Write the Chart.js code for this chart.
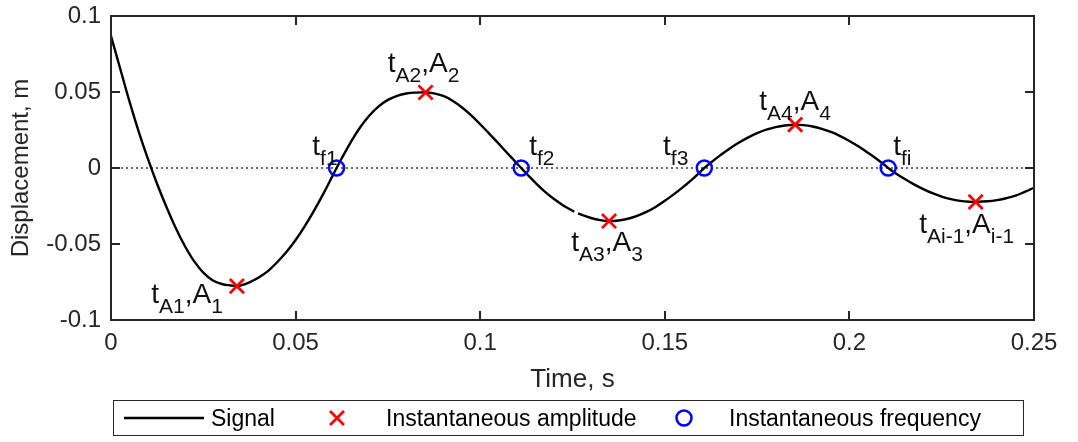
<!DOCTYPE html>
<html>
<head>
<meta charset="utf-8">
<script src="https://cdn.jsdelivr.net/npm/chart.js@4.4.1/dist/chart.umd.min.js"></script>
<style>
  body { margin: 0; background: #fff; }
  #wrap { position: relative; width: 1078px; height: 442px; }
  #legend {
    position: absolute; left: 113px; top: 400px; width: 909px; height: 34px;
    border: 1.5px solid #262626; font-family: 'Liberation Sans', Arial, sans-serif;
    font-size: 23px; color: #000;
  }
  #legend .txt { position: absolute; top: 4px; line-height: 26px; white-space: nowrap; }
  #legend svg { position: absolute; top: 0; }
</style>
</head>
<body>
<div id="wrap">
  <canvas id="chart" width="1078" height="442"></canvas>
  <div id="legend">
    <svg style="left:8px" width="84" height="34"><line x1="2" y1="17" x2="82" y2="17" stroke="#000" stroke-width="2.5"/></svg>
    <span class="txt" style="left:97px">Signal</span>
    <svg style="left:212px" width="22" height="34"><path d="M4 10 L18 24 M18 10 L4 24" stroke="#ff0000" stroke-width="2.8"/></svg>
    <span class="txt" style="left:272px">Instantaneous amplitude</span>
    <svg style="left:559px" width="22" height="34"><circle cx="11" cy="17" r="7.5" fill="none" stroke="#0000ff" stroke-width="2.5"/></svg>
    <span class="txt" style="left:615px">Instantaneous frequency</span>
  </div>
</div>
<script>
// signal (time in s, displacement in m), null = small break in the trace
const signalTime = [0, 0.0025, 0.005, 0.0075, 0.01, 0.0125, 0.015, 0.0175, 0.02, 0.0225, 0.025, 0.0275, 0.03, 0.0325, 0.0341,
  0.035, 0.0375, 0.04, 0.0425, 0.045, 0.0475, 0.05, 0.0525, 0.055, 0.0575, 0.06, 0.0611,
  0.0625, 0.065, 0.0675, 0.07, 0.0725, 0.075, 0.0775, 0.08, 0.0825, 0.0852,
  0.0875, 0.09, 0.0925, 0.095, 0.0975, 0.1, 0.1025, 0.105, 0.1075, 0.11, 0.1111,
  0.1125, 0.115, 0.1175, 0.12, 0.1225, 0.125, 0.1255, 0.126, 0.1265, 0.1275, 0.13, 0.1325, 0.1349,
  0.1375, 0.14, 0.1425, 0.145, 0.1475, 0.15, 0.1525, 0.155, 0.1575, 0.16, 0.1607,
  0.1625, 0.165, 0.1675, 0.17, 0.1725, 0.175, 0.1775, 0.18, 0.1825, 0.1853,
  0.1875, 0.19, 0.1925, 0.195, 0.1975, 0.2, 0.2025, 0.205, 0.2075, 0.21, 0.2105,
  0.2125, 0.215, 0.2175, 0.22, 0.2225, 0.225, 0.2275, 0.23, 0.2325, 0.2342,
  0.2375, 0.24, 0.2425, 0.245, 0.2475, 0.25];
const signalDisp = [0.0868, 0.0653, 0.0438, 0.024, 0.006, -0.0105, -0.0255, -0.0393, -0.0513, -0.0613, -0.0688, -0.0738, -0.0763, -0.0773, -0.0777,
  -0.0774, -0.0752, -0.072, -0.0678, -0.062, -0.0553, -0.0474, -0.0382, -0.028, -0.017, -0.0052, 0,
  0.0064, 0.0172, 0.0268, 0.0345, 0.0405, 0.0448, 0.0475, 0.049, 0.0496, 0.0497,
  0.0491, 0.0474, 0.0443, 0.04, 0.0348, 0.0288, 0.0225, 0.016, 0.0094, 0.0029, 0,
  -0.0036, -0.0098, -0.0155, -0.0204, -0.0246, -0.0281, -0.0287, null, -0.0298, -0.0308, -0.0329, -0.0343, -0.0349,
  -0.0345, -0.0334, -0.0315, -0.0289, -0.0256, -0.0216, -0.0172, -0.0124, -0.0073, -0.0015, 0,
  0.0036, 0.0083, 0.0127, 0.0166, 0.02, 0.0229, 0.0252, 0.0269, 0.028, 0.0285,
  0.0282, 0.0273, 0.0258, 0.0237, 0.021, 0.0178, 0.0141, 0.0101, 0.0058, 0.001, 0,
  -0.0034, -0.0073, -0.0108, -0.0139, -0.0166, -0.0188, -0.0205, -0.0216, -0.0222, -0.0223,
  -0.0219, -0.0211, -0.0199, -0.0182, -0.0157, -0.013];

// instantaneous amplitude (extrema) and frequency (zero crossings)
const ampTime = [0.0341, 0.0852, 0.1349, 0.1853, 0.2342];
const ampDisp = [-0.0777, 0.0497, -0.0349, 0.0285, -0.0223];
const ampLabels = [['t', 'A1', ',A', '1'], ['t', 'A2', ',A', '2'], ['t', 'A3', ',A', '3'], ['t', 'A4', ',A', '4'], ['t', 'Ai-1', ',A', 'i-1']];
const freqTime = [0.0611, 0.1111, 0.1607, 0.2105];
const freqDisp = [0, 0, 0, 0];
const freqLabels = [['t', 'f1'], ['t', 'f2'], ['t', 'f3'], ['t', 'fi']];

const xTickLabels = ['0', '0.05', '0.1', '0.15', '0.2', '0.25'];
const yTickLabels = ['-0.1', '-0.05', '0', '0.05', '0.1'];

// where each annotation sits relative to its marker (pixels)
const ampLabelPos = [
  {dx: -14, dy: 17, align: 'right'},
  {dx: -2, dy: -20, align: 'center'},
  {dx: -2, dy: 30, align: 'center'},
  {dx: 0, dy: -15, align: 'center'},
  {dx: -9, dy: 31, align: 'center'}
];
const freqLabelPos = [
  {dx: 1, dy: -13, align: 'right'},
  {dx: 8, dy: -13, align: 'left'},
  {dx: -16, dy: -13, align: 'right'},
  {dx: 5, dy: -13, align: 'left'}
];

const FONT = "'Liberation Sans', Arial, sans-serif";
const AXIS_COL = '#262626';

function drawSubLabel(ctx, px, py, parts, align) {
  const mainFont = '28px ' + FONT, subFont = '21px ' + FONT;
  let total = 0;
  const widths = parts.map((p, i) => {
    ctx.font = i % 2 ? subFont : mainFont;
    const w = ctx.measureText(p).width;
    total += w;
    return w;
  });
  let cx = align === 'right' ? px - total : align === 'center' ? px - total / 2 : px;
  ctx.textAlign = 'left';
  ctx.textBaseline = 'alphabetic';
  parts.forEach((p, i) => {
    ctx.font = i % 2 ? subFont : mainFont;
    ctx.fillText(p, cx, i % 2 ? py + 10 : py);
    cx += widths[i];
  });
}

const frameAndLabels = {
  id: 'frameAndLabels',
  afterDraw(chart) {
    const {ctx, chartArea: a, scales: {x, y}} = chart;
    ctx.save();
    // box round the axes, with ticks pointing inwards on all four sides
    ctx.strokeStyle = AXIS_COL;
    ctx.lineWidth = 2;
    ctx.strokeRect(a.left, a.top, a.right - a.left, a.bottom - a.top);
    ctx.beginPath();
    x.ticks.forEach(t => {
      const px = Math.round(x.getPixelForValue(t.value));
      ctx.moveTo(px, a.bottom); ctx.lineTo(px, a.bottom - 9);
      ctx.moveTo(px, a.top); ctx.lineTo(px, a.top + 9);
    });
    y.ticks.forEach(t => {
      const py = Math.round(y.getPixelForValue(t.value));
      ctx.moveTo(a.left, py); ctx.lineTo(a.left + 9, py);
      ctx.moveTo(a.right, py); ctx.lineTo(a.right - 9, py);
    });
    ctx.stroke();

    ctx.fillStyle = '#111';
    ampTime.forEach((t, i) => {
      const pos = ampLabelPos[i];
      drawSubLabel(ctx, x.getPixelForValue(t) + pos.dx, y.getPixelForValue(ampDisp[i]) + pos.dy, ampLabels[i], pos.align);
    });
    freqTime.forEach((t, i) => {
      const pos = freqLabelPos[i];
      drawSubLabel(ctx, x.getPixelForValue(t) + pos.dx, y.getPixelForValue(freqDisp[i]) + pos.dy, freqLabels[i], pos.align);
    });
    ctx.restore();
  }
};

const ctx = document.getElementById('chart').getContext('2d');

new Chart(ctx, {
  type: 'line',
  data: {
    datasets: [
      {
        label: 'Instantaneous amplitude',
        data: ampTime.map((t, i) => ({x: t, y: ampDisp[i]})),
        showLine: false,
        pointStyle: 'crossRot',
        pointRadius: 10,
        pointBorderWidth: 2.8,
        pointBorderColor: '#ff0000',
        pointBackgroundColor: '#ff0000',
        order: 0
      },
      {
        label: 'Instantaneous frequency',
        data: freqTime.map((t, i) => ({x: t, y: freqDisp[i]})),
        showLine: false,
        pointStyle: 'circle',
        pointRadius: 7.5,
        pointBorderWidth: 2.5,
        pointBorderColor: '#0000ff',
        pointBackgroundColor: 'rgba(0,0,0,0)',
        order: 0
      },
      {
        label: 'Signal',
        data: signalTime.map((t, i) => ({x: t, y: signalDisp[i]})),
        borderColor: '#000',
        borderWidth: 2.4,
        pointRadius: 0,
        tension: 0.4,
        spanGaps: false,
        order: 1
      },
      {
        label: 'zero',
        data: [{x: 0, y: 0}, {x: 0.25, y: 0}],
        borderColor: '#6a6a6a',
        borderWidth: 2,
        borderDash: [2, 3],
        pointRadius: 0,
        order: 2
      }
    ]
  },
  options: {
    responsive: false,
    animation: false,
    layout: {padding: {top: 16, right: 44, bottom: 47, left: 0}},
    plugins: {legend: {display: false}, tooltip: {enabled: false}},
    scales: {
      x: {
        type: 'linear',
        min: 0,
        max: 0.25,
        grid: {display: false, drawTicks: false},
        border: {display: false},
        ticks: {
          stepSize: 0.05,
          padding: 9,
          color: AXIS_COL,
          font: {family: FONT, size: 24},
          maxRotation: 0,
          callback: (v, i) => xTickLabels[i]
        },
        title: {display: true, text: 'Time, s', color: AXIS_COL, font: {family: FONT, size: 26}, padding: {top: 0, bottom: 0}},
        afterFit: s => { s.height = 75; s.paddingLeft = 0; s.paddingRight = 0; }
      },
      y: {
        min: -0.1,
        max: 0.1,
        grid: {display: false, drawTicks: false},
        border: {display: false},
        ticks: {
          stepSize: 0.05,
          padding: 10,
          color: AXIS_COL,
          font: {family: FONT, size: 24},
          callback: (v, i) => yTickLabels[i]
        },
        title: {display: true, text: 'Displacement, m', color: AXIS_COL, font: {family: FONT, size: 24}, padding: {top: 7, bottom: 0}},
        afterFit: s => { s.width = 111; s.paddingTop = 0; s.paddingBottom = 0; }
      }
    }
  },
  plugins: [frameAndLabels]
});
</script>
</body>
</html>
